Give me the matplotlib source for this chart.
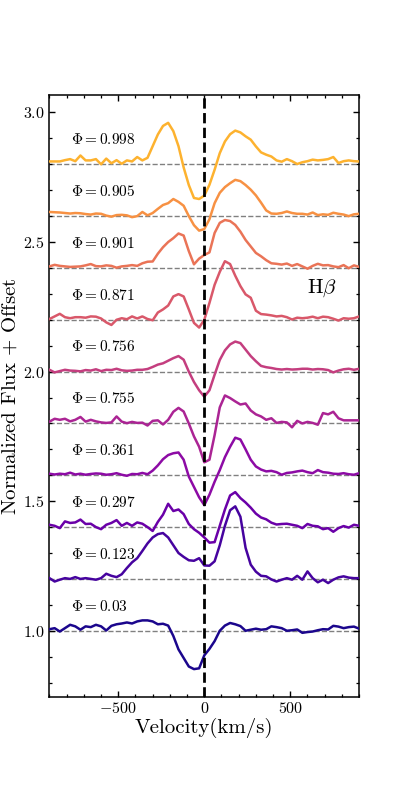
import numpy as np
import matplotlib
matplotlib.use('Agg')
import matplotlib.pyplot as plt
from matplotlib.ticker import MultipleLocator

plt.rcParams['font.family'] = 'serif'
plt.rcParams['font.serif'] = ['cmr10', 'DejaVu Serif']
plt.rcParams['mathtext.fontset'] = 'cm'
plt.rcParams['axes.formatter.use_mathtext'] = True

# velocity grid (km/s)
velocity = np.arange(-900, 901, 30)

phase_labels = ['0.03', '0.123', '0.297', '0.361', '0.755', '0.756', '0.871', '0.901', '0.905', '0.998']
offsets = [1.0, 1.2, 1.4, 1.6, 1.8, 2.0, 2.2, 2.4, 2.6, 2.8]

# normalized flux minus 1 (before offset)
flux_0030 = [0.006, 0.010, -0.003, 0.010, 0.023, 0.017, 0.004, 0.017, 0.014, 0.023,
             0.017, 0.001, 0.019, 0.025, 0.028, 0.032, 0.028, 0.036, 0.040, 0.040,
             0.036, 0.025, 0.027, 0.020, -0.020, -0.072, -0.105, -0.138, -0.148, -0.145,
             -0.095, -0.070, -0.040, 0.000, 0.020, 0.030, 0.025, 0.018, 0.000, 0.004,
             0.008, 0.004, 0.006, 0.017, 0.014, 0.010, 0.000, 0.002, 0.005, -0.008,
             -0.005, -0.003, 0.002, 0.006, 0.005, 0.019, 0.016, 0.010, 0.014, 0.016, 0.008]
flux_0123 = [0.003, -0.010, -0.003, 0.003, 0.000, 0.007, 0.000, 0.003, 0.000, -0.003,
             0.003, 0.020, 0.012, 0.007, 0.018, 0.042, 0.064, 0.080, 0.108, 0.137,
             0.160, 0.173, 0.177, 0.160, 0.130, 0.100, 0.085, 0.072, 0.070, 0.080,
             0.052, 0.051, 0.068, 0.130, 0.205, 0.265, 0.280, 0.240, 0.120, 0.055,
             0.028, 0.012, 0.010, -0.002, -0.010, -0.003, 0.003, -0.003, 0.012, -0.003,
             0.029, 0.003, -0.013, -0.003, -0.016, -0.003, 0.006, 0.010, 0.005, 0.003, 0.003]
flux_0297 = [0.009, 0.005, -0.004, 0.022, 0.016, 0.018, 0.029, 0.012, 0.013, 0.000,
             -0.008, 0.009, 0.016, 0.027, 0.005, 0.016, 0.005, 0.018, 0.013, 0.000,
             -0.015, 0.020, 0.048, 0.090, 0.062, 0.068, 0.050, 0.012, -0.008, -0.022,
             -0.040, -0.060, -0.058, 0.005, 0.068, 0.122, 0.135, 0.112, 0.095, 0.075,
             0.052, 0.037, 0.030, 0.017, 0.010, 0.012, 0.013, 0.009, 0.005, -0.004,
             0.012, 0.005, 0.003, -0.008, -0.004, -0.018, -0.004, 0.004, -0.002, 0.009, 0.005]
flux_0361 = [0.006, 0.003, 0.006, 0.004, 0.010, 0.003, 0.006, 0.002, 0.005, 0.007,
             0.006, 0.002, 0.004, 0.008, 0.002, -0.002, 0.005, 0.004, 0.009, 0.004,
             0.018, 0.038, 0.062, 0.078, 0.085, 0.088, 0.060, -0.005, -0.045, -0.085,
             -0.115, -0.075, -0.025, 0.020, 0.070, 0.110, 0.145, 0.138, 0.100, 0.060,
             0.034, 0.022, 0.015, 0.017, 0.012, 0.002, 0.009, 0.011, 0.015, 0.018,
             0.012, 0.008, 0.020, 0.012, 0.010, 0.006, 0.005, 0.008, 0.004, 0.002, 0.008]
flux_0755 = [0.007, 0.018, 0.014, 0.018, 0.008, 0.014, 0.025, 0.007, 0.014, 0.008,
             0.004, 0.002, 0.004, 0.027, 0.007, 0.001, 0.006, 0.002, 0.003, -0.008,
             0.010, 0.012, -0.004, 0.014, 0.045, 0.060, 0.046, 0.000, -0.050, -0.090,
             -0.150, -0.140, -0.045, 0.062, 0.108, 0.098, 0.085, 0.073, 0.077, 0.050,
             0.035, 0.027, 0.014, 0.020, 0.002, 0.006, 0.004, -0.015, 0.010, 0.000,
             0.006, 0.002, -0.005, 0.040, 0.035, 0.045, 0.020, 0.012, 0.012, 0.012, 0.012]
flux_0756 = [0.007, -0.003, 0.002, 0.007, 0.004, 0.003, 0.001, 0.006, 0.004, 0.009,
             0.002, 0.007, 0.006, 0.011, 0.005, 0.003, 0.004, 0.007, 0.007, 0.010,
             0.018, 0.027, 0.032, 0.042, 0.052, 0.060, 0.046, 0.000, -0.040, -0.072,
             -0.097, -0.072, -0.012, 0.045, 0.082, 0.105, 0.116, 0.110, 0.085, 0.060,
             0.040, 0.022, 0.017, 0.014, 0.010, 0.008, 0.010, 0.008, 0.009, 0.011,
             0.011, 0.008, 0.010, 0.009, 0.006, -0.003, 0.004, 0.009, 0.011, 0.007, 0.011]
flux_0871 = [0.003, 0.013, 0.023, 0.010, 0.006, 0.010, 0.010, 0.008, 0.013, 0.012,
             0.005, -0.010, -0.020, 0.000, 0.006, 0.002, 0.013, 0.005, 0.013, 0.003,
             -0.002, 0.028, 0.040, 0.055, 0.090, 0.099, 0.090, 0.040, -0.012, -0.030,
             0.000, 0.065, 0.135, 0.185, 0.226, 0.215, 0.170, 0.130, 0.098, 0.085,
             0.035, 0.022, 0.020, 0.017, 0.013, 0.015, 0.010, 0.001, 0.008, 0.006,
             0.008, 0.012, 0.006, 0.012, 0.010, 0.004, -0.003, 0.006, 0.004, 0.006, 0.013]
flux_0901 = [0.006, 0.012, 0.008, 0.006, 0.004, 0.005, 0.006, 0.010, 0.015, 0.007,
             0.006, 0.010, 0.008, 0.001, 0.006, 0.008, 0.011, 0.008, 0.018, 0.024,
             0.025, 0.055, 0.080, 0.100, 0.115, 0.133, 0.125, 0.065, 0.014, 0.036,
             0.050, 0.060, 0.135, 0.174, 0.185, 0.181, 0.166, 0.140, 0.108, 0.083,
             0.058, 0.045, 0.030, 0.018, 0.016, 0.013, 0.017, 0.008, 0.015, 0.006,
             -0.003, 0.008, 0.016, 0.010, 0.011, 0.006, 0.003, 0.011, -0.001, 0.010, 0.004]
flux_0905 = [0.016, 0.015, 0.014, 0.012, 0.010, 0.012, 0.011, 0.008, 0.006, 0.010,
             0.009, 0.002, -0.002, 0.004, 0.005, 0.003, -0.004, 0.000, 0.016, 0.003,
             0.012, 0.028, 0.043, 0.050, 0.066, 0.055, 0.040, 0.000, -0.035, -0.056,
             -0.050, -0.012, 0.050, 0.090, 0.112, 0.127, 0.140, 0.135, 0.120, 0.102,
             0.080, 0.052, 0.022, 0.010, 0.009, 0.012, 0.018, 0.012, 0.009, 0.009,
             0.006, 0.014, 0.004, 0.007, 0.005, 0.013, 0.009, 0.006, 0.000, 0.007, 0.009]
flux_0998 = [0.011, 0.011, 0.011, 0.016, 0.020, 0.012, 0.034, 0.015, 0.015, 0.020,
             0.000, 0.022, 0.004, 0.016, 0.002, 0.015, 0.011, 0.028, 0.015, 0.025,
             0.070, 0.115, 0.148, 0.160, 0.128, 0.070, -0.012, -0.080, -0.130, -0.134,
             -0.121, -0.079, -0.021, 0.043, 0.088, 0.116, 0.130, 0.123, 0.108, 0.095,
             0.069, 0.046, 0.037, 0.030, 0.015, 0.010, 0.020, 0.012, 0.001, 0.008,
             0.012, 0.018, 0.015, 0.017, 0.020, 0.028, 0.005, 0.012, 0.015, 0.012, 0.011]

spectra = [flux_0030, flux_0123, flux_0297, flux_0361, flux_0755,
           flux_0756, flux_0871, flux_0901, flux_0905, flux_0998]

colors = plt.cm.plasma(np.linspace(0.02, 0.83, len(spectra)))

fig = plt.figure(figsize=(3.99, 7.97), dpi=100)
ax = fig.add_axes([0.124, 0.126, 0.776, 0.755])

for flux, off, col, lab in zip(spectra, offsets, colors, phase_labels):
    ax.axhline(off, color='gray', ls='--', lw=1.0, zorder=1)
    ax.plot(velocity, np.array(flux) + off, color=col, lw=1.8, zorder=3)
    ax.text(-775, off + 0.095, r'$\Phi = %s$' % lab, fontsize=11,
            ha='left', va='center', zorder=4)

ax.axvline(0, color='k', ls='--', lw=2.0, zorder=5)
ax.text(600, 2.323, r'$\mathrm{H}\beta$', fontsize=15, ha='left', va='center')

ax.set_xlim(-900, 900)
ax.set_ylim(0.746, 3.068)
ax.xaxis.set_major_locator(MultipleLocator(500))
ax.xaxis.set_minor_locator(MultipleLocator(100))
ax.yaxis.set_major_locator(MultipleLocator(0.5))
ax.yaxis.set_minor_locator(MultipleLocator(0.1))
ax.tick_params(which='both', direction='in', top=True, right=True, labelsize=11.5)
ax.tick_params(which='major', length=4.5, width=1.0)
ax.tick_params(which='minor', length=2.5, width=0.9)
for sp in ax.spines.values():
    sp.set_linewidth(1.1)

ax.set_xlabel('Velocity(km/s)', fontsize=15, labelpad=1)
ax.set_ylabel(r'Normalized Flux $+$ Offset', fontsize=15, labelpad=2)

fig.savefig('out.png', dpi=100)
